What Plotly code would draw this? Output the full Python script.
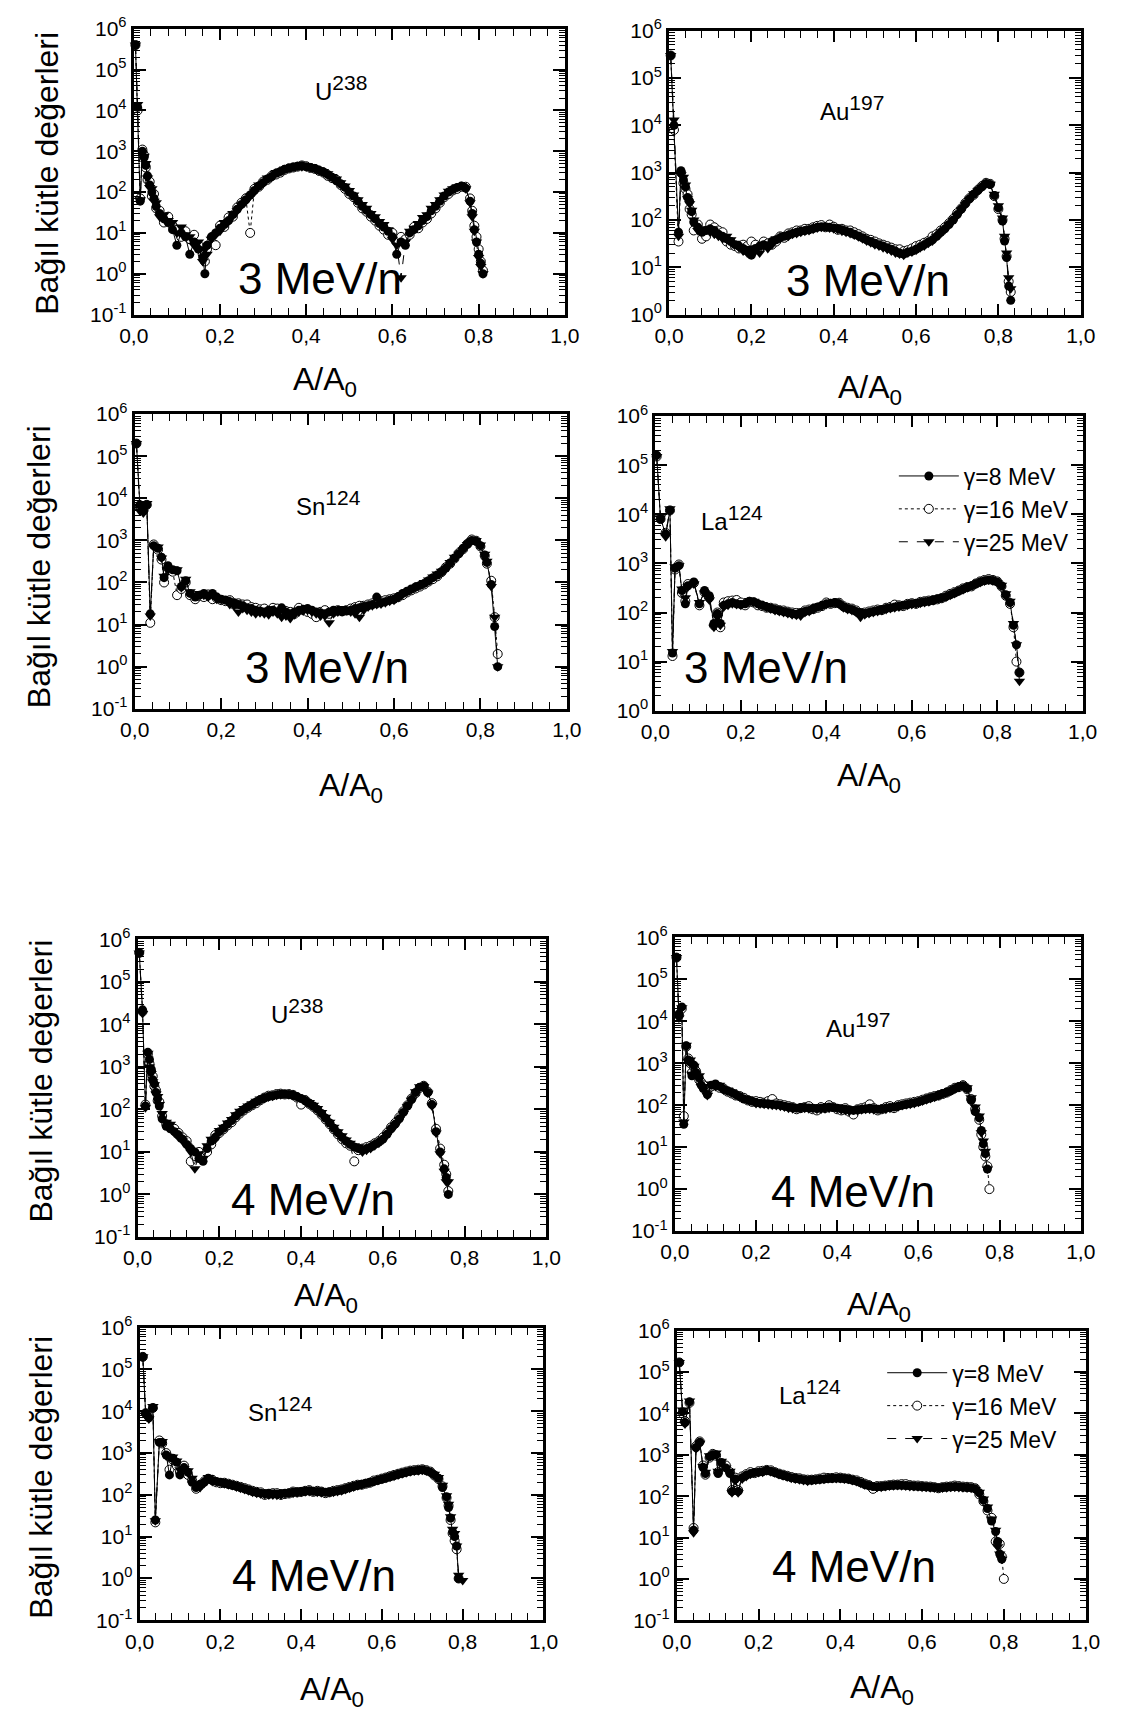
import plotly.graph_objects as go

W, H = 1122, 1720

# ---------------- data ----------------
series_names = ["γ=8 MeV", "γ=16 MeV", "γ=25 MeV"]

# U238, 3 MeV/n
p1_x = [0.004,0.009,0.015,0.02,0.024,0.028,0.032,0.037,0.042,0.047,0.052,0.06,0.07,0.08,0.09,0.10,0.11,0.12,0.13,0.14,0.15,0.16,0.165,0.17,0.18,0.19,0.20,0.21,0.22,0.23,0.24,0.25,0.26,0.27,0.28,0.29,
        0.30,0.31,0.32,0.33,0.34,0.35,0.36,0.37,0.38,0.39,0.40,0.41,0.42,0.43,0.44,0.45,0.46,0.47,0.48,0.49,0.50,0.51,0.52,0.53,0.54,0.55,0.56,0.57,0.58,0.59,0.60,0.61,0.62,0.63,0.64,0.65,0.66,0.67,0.68,0.69,0.70,0.71,0.72,0.73,0.74,0.75,0.76,0.77,0.78,0.785,0.79,0.795,0.80,0.805,0.81]
p1_y8 = [4e5,1.2e4,60,1000,700,450,250,150,100,70,45,30,22,18,12,5,10,8,3,6,4,2.5,1,5,8,10,13,16,20,28,38,50,65,85,110,140,
         170,210,240,290,320,360,390,410,430,440,420,400,380,340,310,270,230,190,160,130,100,80,60,45,36,28,22,17,14,11,8,3,6,5,10,12,15,20,25,35,45,60,80,100,115,130,140,125,60,30,12,6,3,1.8,1]
p1_y16 = [4e5,1.0e4,70,1100,800,400,200,180,80,90,40,35,18,25,15,12,8,11,7,9,5,3,2,4,6,5,15,14,24,25,42,55,70,10,120,135,
          180,200,250,270,300,350,380,400,420,450,430,390,370,330,300,250,220,200,150,120,90,75,55,40,33,25,20,15,12,9,10,6,8,7,9,14,13,18,22,30,40,55,75,90,110,120,135,135,70,35,15,8,4,2,1.2]
p1_y25 = [4e5,1.4e4,65,900,750,500,220,130,120,60,55,25,28,20,18,10,14,9,8,5,6,2,4,3,7,9,11,18,19,30,35,48,60,80,100,150,
          160,220,230,300,330,370,400,420,440,420,410,410,390,350,320,280,240,210,170,140,110,85,65,50,40,30,25,19,16,12,7,5,0.8,6,11,13,17,24,28,40,50,65,85,105,120,135,145,120,55,25,11,6,2.5,1.5,1]

# Au197, 3 MeV/n
p2_x = [0.004,0.012,0.023,0.029,0.035,0.04,0.045,0.05,0.055,0.06,0.07,0.08,0.09,0.10,0.11,0.12,0.13,0.14,0.15,0.16,0.17,0.18,0.19,0.20,0.21,0.22,0.23,
        0.24,0.25,0.26,0.27,0.28,0.29,0.30,0.31,0.32,0.33,0.34,0.35,0.36,0.37,0.38,0.39,0.40,0.41,0.42,0.43,0.44,0.45,0.46,0.47,0.48,0.49,0.50,0.51,0.52,0.53,0.54,0.55,0.56,0.57,0.58,0.59,0.60,0.61,0.62,0.63,0.64,0.65,0.66,0.67,0.68,0.69,0.70,0.71,0.72,0.73,0.74,0.75,0.76,0.77,
        0.78,0.79,0.80,0.81,0.815,0.82,0.825,0.83]
p2_y8 = [3e5,1e4,55,1100,700,500,300,250,150,90,70,55,60,65,60,50,45,40,35,30,28,25,22,18,25,28,30,
         28,35,38,42,45,48,52,55,58,60,62,66,70,72,72,70,68,66,62,58,55,50,46,42,38,35,32,30,28,26,24,22,20,19,21,22,24,27,30,34,38,45,55,65,80,100,130,170,220,280,350,420,500,590,
         560,330,180,95,36,16,4,2]
p2_y16 = [3e5,8e3,35,1000,600,450,350,170,130,60,80,40,45,80,70,60,55,35,30,28,25,30,28,35,30,25,35,
          32,30,35,45,42,52,55,60,60,65,65,70,75,78,70,80,72,62,65,60,60,55,50,45,40,38,35,32,30,28,26,24,24,22,23,25,28,30,33,36,45,50,60,70,85,105,140,175,230,290,340,430,520,610,
          580,320,170,100,40,17,5,3]
p2_y25 = [3e5,1.3e4,45,900,800,550,280,220,160,100,60,60,65,55,50,45,40,45,38,32,26,22,20,25,22,20,28,
          25,30,40,40,48,45,50,52,55,58,60,64,68,70,75,68,65,63,58,55,52,48,44,40,36,33,30,28,26,24,22,20,19,18,20,21,23,26,28,32,36,44,52,62,78,98,125,165,210,275,360,410,490,580,
          570,350,200,110,45,20,6,3.5]

# Sn124, 3 MeV/n
p3_x = [0.004,0.012,0.02,0.028,0.036,0.044,0.054,0.062,0.068,0.077,0.088,0.098,0.108,0.118,0.128,0.14,0.15,0.16,0.17,0.18,0.19,0.20,
        0.21,0.22,0.23,0.24,0.25,0.26,0.27,0.28,0.29,0.30,0.31,0.32,0.33,0.34,0.35,0.36,0.37,0.38,0.39,0.40,0.41,0.42,0.43,0.44,0.45,0.46,0.47,0.48,0.49,0.50,0.51,0.52,0.53,0.54,0.55,0.56,0.57,0.58,0.59,0.60,0.61,0.62,0.63,0.64,0.65,0.66,0.67,0.68,0.69,0.70,0.71,0.72,0.73,0.74,0.75,0.76,0.77,0.78,
        0.79,0.80,0.81,0.815,0.825,0.833,0.84]
p3_y8 = [2e5,7e3,5e3,7e3,18,750,650,400,130,250,200,190,80,110,55,45,50,55,48,55,45,40,
         38,35,33,30,28,25,24,22,21,20,22,22,20,25,20,18,20,22,23,24,22,20,19,18,20,22,21,20,21,22,24,25,27,28,30,45,33,35,38,40,46,55,62,70,78,85,95,110,130,150,180,220,290,380,480,650,820,1000,
         950,750,450,300,90,9,1]
p3_y16 = [2e5,6.5e3,5.5e3,7e3,11,800,600,350,100,220,180,50,70,100,50,40,48,45,52,40,42,38,
          36,38,30,32,30,30,26,25,23,24,20,25,24,22,21,20,18,25,22,20,18,15,20,22,18,20,22,21,22,24,26,28,28,30,32,32,36,38,40,42,45,50,58,65,72,80,90,105,120,140,175,230,280,370,500,620,830,1050,
          980,720,430,280,110,15,2]
p3_y25 = [2e5,5e3,4.5e3,7.5e3,16,700,700,380,140,200,210,200,75,120,60,50,55,50,45,50,40,42,
          40,30,28,20,24,22,20,18,19,18,17,20,18,15,16,14,17,20,21,22,20,18,16,16,11,18,20,24,22,20,18,15,22,26,28,30,31,33,36,38,44,52,60,68,76,88,100,115,135,160,185,210,300,400,470,600,800,980,
          1000,780,470,320,80,15,1]

# La124, 3 MeV/n
p4_x = [0.003,0.012,0.024,0.034,0.04,0.046,0.055,0.062,0.07,0.076,0.09,0.103,0.115,0.126,0.137,0.145,0.152,0.16,0.17,0.18,0.19,0.20,0.21,0.22,0.23,0.24,0.25,0.26,
        0.27,0.28,0.29,0.30,0.31,0.32,0.33,0.34,0.35,0.36,0.37,0.38,0.39,0.40,0.41,0.42,0.43,0.44,0.45,0.46,0.47,0.48,0.49,0.50,0.51,0.52,0.53,0.54,0.55,0.56,0.57,0.58,0.59,0.60,0.61,0.62,0.63,0.64,0.65,0.66,0.67,0.68,0.69,0.70,0.71,0.72,0.73,0.74,0.75,0.76,0.77,0.78,
        0.79,0.80,0.81,0.82,0.83,0.838,0.845,0.852]
p4_y8 = [1.6e5,8e3,4e3,1.2e4,15,800,900,280,150,350,420,150,280,220,60,95,60,140,150,160,150,145,150,170,165,150,140,130,
         122,115,110,105,100,95,92,100,105,110,120,130,140,150,155,160,150,130,120,115,105,100,95,100,105,110,115,120,125,130,135,140,145,150,155,160,165,170,180,190,200,210,230,250,275,300,325,350,385,420,445,460,
         450,420,350,230,160,55,22,6]
p4_y16 = [1.5e5,8e3,4.2e3,1.2e4,13,750,950,250,170,380,400,140,260,200,55,100,50,160,170,175,180,160,140,165,160,140,135,125,
          125,120,112,110,104,100,98,95,110,115,118,125,135,160,150,155,158,135,125,120,110,95,100,105,110,115,112,125,130,145,140,135,150,155,150,165,170,175,178,185,195,220,240,260,280,310,330,340,390,430,460,480,
          460,430,340,220,150,50,10,6]
p4_y25 = [1.5e5,8.5e3,3.5e3,1.3e4,16,850,900,300,200,330,380,160,250,180,50,80,55,130,140,150,145,140,155,175,170,155,145,128,
          118,110,105,100,95,90,88,85,100,105,115,135,138,145,160,165,145,125,115,110,100,80,90,95,100,105,110,115,120,125,130,145,140,145,150,155,160,165,175,195,198,205,225,245,270,290,320,360,380,410,440,460,
          440,410,360,240,170,60,22,4]

# U238, 4 MeV/n
p5_x = [0.004,0.012,0.019,0.025,0.029,0.033,0.037,0.041,0.045,0.049,0.053,0.06,0.07,0.08,0.09,0.10,0.11,0.12,0.13,0.14,0.15,0.16,0.17,0.18,0.19,0.20,
        0.21,0.22,0.23,0.24,0.25,0.26,0.27,0.28,0.29,0.30,0.31,0.32,0.33,0.34,0.35,0.36,0.37,0.38,0.39,0.40,0.41,0.42,0.43,0.44,0.45,0.46,0.47,0.48,0.49,0.50,0.51,0.52,0.53,0.54,0.55,0.56,0.57,0.58,0.59,0.60,0.61,0.62,0.63,0.64,0.65,0.66,0.67,0.68,
        0.69,0.70,0.71,0.72,0.73,0.74,0.75,0.755,0.76]
p5_y8 = [4.8e5,2.2e4,120,2200,1500,900,500,400,250,180,120,60,40,35,30,25,20,15,12,10,7,6,12,18,22,30,
         36,45,55,70,85,100,115,130,150,170,185,200,210,220,228,230,225,215,200,180,160,140,120,100,80,62,48,36,28,22,18,15,13,12,11,12,13,15,17,20,26,35,45,60,85,120,170,250,
         330,350,250,130,30,10,4,2.5,1]
p5_y16 = [4.8e5,2.0e4,130,2000,1200,800,600,350,280,160,150,70,45,40,35,28,22,18,6,8,10,8,10,15,25,28,
          34,42,50,65,80,95,110,125,140,165,190,210,215,230,235,225,230,220,190,130,165,135,115,95,75,58,45,34,26,20,16,14,6,11,12,13,14,16,18,22,28,38,48,65,90,125,180,240,
          320,360,260,140,35,12,5,3,1.2]
p5_y25 = [4.8e5,1.8e4,110,2100,1000,700,450,380,230,200,130,80,50,45,28,22,18,14,10,4,9,7,14,20,20,32,
          38,48,58,75,90,105,120,135,155,175,180,195,205,215,222,235,220,210,195,185,155,145,125,105,85,65,50,38,30,24,19,16,14,13,10,11,12,14,16,19,25,33,42,58,80,115,165,260,
          340,340,240,120,28,9,3.5,2,2]

# Au197, 4 MeV/n
p6_x = [0.004,0.01,0.017,0.022,0.028,0.033,0.038,0.042,0.047,0.052,0.06,0.065,0.07,0.08,0.09,0.10,0.11,0.12,0.13,0.14,0.15,0.16,0.17,0.18,0.19,0.20,
        0.21,0.22,0.23,0.24,0.25,0.26,0.27,0.28,0.29,0.30,0.31,0.32,0.33,0.34,0.35,0.36,0.37,0.38,0.39,0.40,0.41,0.42,0.43,0.44,0.45,0.46,0.47,0.48,0.49,0.50,0.51,0.52,0.53,0.54,0.55,0.56,0.57,0.58,0.59,0.60,0.61,0.62,0.63,0.64,0.65,0.66,0.67,0.68,0.69,
        0.70,0.71,0.72,0.73,0.74,0.75,0.755,0.76,0.765,0.77,0.775]
p6_y8 = [3.3e5,1.5e4,2.2e4,35,2600,1200,1100,500,900,600,450,300,250,180,300,320,280,240,220,200,180,160,140,135,125,115,
         112,110,108,105,102,100,95,90,88,85,88,88,86,85,83,85,88,90,88,85,82,80,78,75,78,80,82,85,82,80,82,85,88,90,95,100,105,110,115,120,130,140,150,160,175,190,205,220,250,
         280,290,250,130,70,50,25,12,7,3,None]
p6_y16 = [3.3e5,1.4e4,2e4,55,2500,1300,1000,600,800,650,400,350,300,200,280,300,260,250,210,190,170,165,150,130,120,125,
          120,115,125,140,110,105,100,95,90,80,85,90,95,80,75,90,85,100,90,80,75,85,70,60,80,85,90,105,85,75,80,90,95,85,100,105,110,115,120,125,135,145,155,165,170,185,200,230,260,
          270,300,240,140,80,45,20,10,6,3.5,1]
p6_y25 = [3.3e5,1.2e4,2.1e4,40,2700,1100,1200,550,850,550,500,280,280,170,320,280,300,230,230,210,175,155,145,140,130,110,
          108,105,102,100,98,95,90,85,82,90,85,85,82,90,80,80,82,85,90,90,78,75,72,80,75,78,80,80,78,85,88,80,85,95,92,98,102,105,110,118,125,135,145,155,170,195,200,215,240,
          265,285,260,150,90,55,22,14,8,3,None]

# Sn124, 4 MeV/n
p7_x = [0.008,0.015,0.023,0.033,0.039,0.049,0.056,0.066,0.074,0.082,0.092,0.10,0.11,0.12,0.13,0.14,0.15,0.16,0.17,0.18,0.19,0.20,
        0.21,0.22,0.23,0.24,0.25,0.26,0.27,0.28,0.29,0.30,0.31,0.32,0.33,0.34,0.35,0.36,0.37,0.38,0.39,0.40,0.41,0.42,0.43,0.44,0.45,0.46,0.47,0.48,0.49,0.50,0.51,0.52,0.53,0.54,0.55,0.56,0.57,0.58,0.59,0.60,0.61,0.62,0.63,0.64,0.65,0.66,0.67,0.68,0.69,
        0.70,0.71,0.72,0.73,0.74,0.75,0.76,0.765,0.77,0.775,0.78,0.785,0.79,0.80]
p7_y8 = [2e5,9e3,7e3,1.2e4,25,1800,1800,900,300,750,600,300,450,350,200,150,180,200,250,220,210,200,
         190,180,170,160,150,140,130,120,115,110,108,110,105,105,108,110,112,115,118,120,122,125,122,120,118,115,118,120,125,130,140,150,160,170,180,190,200,210,225,240,255,270,290,310,330,350,365,380,390,
         400,380,350,300,250,150,90,50,28,13,10,6,1,None]
p7_y16 = [2e5,9e3,7.5e3,1.2e4,22,2000,1700,1000,400,700,500,350,500,300,220,140,170,210,240,230,200,190,
          195,185,175,165,155,145,135,125,118,115,100,105,110,110,100,105,108,120,115,118,125,130,118,125,120,110,115,125,130,135,145,155,165,175,175,185,195,220,230,245,260,280,300,320,340,360,380,390,400,
          410,390,360,290,240,160,85,55,25,12,8,5,1,None]
p7_y25 = [2e5,8e3,6.5e3,1.3e4,24,1900,1900,850,800,800,650,400,420,380,250,160,150,190,260,210,220,210,
          185,175,168,155,145,135,125,115,110,105,102,100,100,98,100,108,110,110,112,115,118,120,125,115,112,118,115,115,120,125,135,145,155,165,175,195,198,205,220,235,250,265,280,300,320,340,355,370,380,
          390,370,340,310,260,170,95,60,30,15,12,6,1.2,0.9]

# La124, 4 MeV/n
p8_x = [0.006,0.014,0.02,0.031,0.041,0.047,0.056,0.064,0.07,0.08,0.088,0.096,0.101,0.109,0.12,0.13,0.135,0.143,0.15,0.16,0.17,0.18,0.19,0.20,0.21,0.22,0.23,0.24,
        0.25,0.26,0.27,0.28,0.29,0.30,0.31,0.32,0.33,0.34,0.35,0.36,0.37,0.38,0.39,0.40,0.41,0.42,0.43,0.44,0.45,0.46,0.47,0.48,0.49,0.50,0.51,0.52,0.53,0.54,0.55,0.56,0.57,0.58,0.59,0.60,0.61,0.62,0.63,0.64,0.65,0.66,0.67,0.68,0.69,0.70,0.71,0.72,
        0.73,0.74,0.75,0.76,0.77,0.78,0.785,0.79,0.795,0.80]
p8_y8 = [1.7e5,1.1e4,6e3,1.9e4,15,1500,2000,500,350,900,1000,1000,350,650,480,350,130,260,130,280,320,350,370,380,390,420,400,370,
         345,320,300,280,270,260,250,240,245,250,255,260,265,270,272,270,265,260,245,230,210,190,180,170,168,170,175,180,182,185,183,180,178,175,172,170,168,165,162,160,162,165,168,170,168,165,162,160,
         150,120,80,50,25,14,8,4,3,None]
p8_y16 = [1.7e5,1e4,6.5e3,1.8e4,17,1600,2100,550,330,850,1050,950,380,600,550,380,140,280,140,300,340,380,360,400,410,430,420,380,
          350,330,310,290,275,270,255,250,250,255,265,280,275,275,285,280,270,265,250,240,220,200,185,150,175,175,180,185,190,190,195,195,185,180,180,175,172,170,165,155,165,170,172,180,175,170,168,165,
          155,110,75,45,30,8,7,7,3.5,1]
p8_y25 = [1.7e5,1.2e4,5.5e3,2e4,13,1400,1900,520,380,950,950,1100,400,700,480,400,120,240,120,260,300,340,380,370,380,410,390,360,
          335,310,290,270,260,250,240,230,240,245,250,255,262,265,268,265,260,255,240,225,205,185,175,175,165,165,170,175,178,180,178,175,172,170,168,165,163,160,158,165,158,160,165,165,162,160,158,155,
          145,125,85,55,28,15,6,4,3,None]

x_tickvals = [0.0, 0.2, 0.4, 0.6, 0.8, 1.0]
x_ticktext = ["0,0", "0,2", "0,4", "0,6", "0,8", "1,0"]
y_tickvals = [1e-1, 1e0, 1e1, 1e2, 1e3, 1e4, 1e5, 1e6]
y_ticktext = ["10<sup>-1</sup>", "10<sup>0</sup>", "10<sup>1</sup>", "10<sup>2</sup>",
              "10<sup>3</sup>", "10<sup>4</sup>", "10<sup>5</sup>", "10<sup>6</sup>"]
element_names = ["U", "Au", "Sn", "La", "U", "Au", "Sn", "La"]
element_masses = ["238", "197", "124", "124", "238", "197", "124", "124"]
energy_labels = ["3 MeV/n"] * 4 + ["4 MeV/n"] * 4
y_title = "Bağıl kütle değerleri"
x_title = "A/A<sub>0</sub>"
y_min_exp = [-1, 0, -1, 0, -1, -1, -1, -1]

panels = [
    (p1_x, p1_y8, p1_y16, p1_y25),
    (p2_x, p2_y8, p2_y16, p2_y25),
    (p3_x, p3_y8, p3_y16, p3_y25),
    (p4_x, p4_y8, p4_y16, p4_y25),
    (p5_x, p5_y8, p5_y16, p5_y25),
    (p6_x, p6_y8, p6_y16, p6_y25),
    (p7_x, p7_y8, p7_y16, p7_y25),
    (p8_x, p8_y8, p8_y16, p8_y25),
]
checked = []
for n, p in enumerate(panels):
    m = min(len(a) for a in p)
    if any(len(a) != m for a in p):
        print("length mismatch in panel", n + 1, [len(a) for a in p])
    checked.append(tuple(a[:m] for a in p))
panels = checked

# ---------------- layout (pixels) ----------------
boxes = [(122, 565, 15, 305), (672, 1095, 17, 305),
         (123, 567, 406, 705), (658, 1097, 408, 707),
         (126, 546, 939, 1241), (678, 1095, 937, 1235),
         (128, 543, 1333, 1630), (680, 1100, 1336, 1630)]
elem_pos = [(335, 75), (860, 95), (322, 496), (737, 511),
            (290, 1012), (866, 1026), (273, 1416), (817, 1398)]
energy_pos = [(313, 268), (876, 270), (321, 663), (772, 663),
              (306, 1203), (861, 1195), (307, 1585), (862, 1575)]
xtitle_pos = [(319, 373), (879, 381), (345, 785), (877, 775),
              (320, 1302), (888, 1312), (326, 1702), (891, 1700)]
ytitle_pos = {0: (33, 162), 2: (25, 561), 4: (27, 1083), 6: (27, 1485)}

FONT = "Liberation Sans, Arial, sans-serif"


def px(v):
    return v / W


def py(v):
    return 1 - v / H


styles = [
    dict(line=dict(color="black", width=1, dash="solid"),
         marker=dict(symbol="circle", size=9, color="black")),
    dict(line=dict(color="black", width=1, dash="dot"),
         marker=dict(symbol="circle", size=9, color="white", line=dict(color="black", width=1))),
    dict(line=dict(color="black", width=1, dash="dash"),
         marker=dict(symbol="triangle-down", size=10, color="black")),
]
draw_order = [1, 0, 2]   # open circles underneath, filled marks on top

fig = go.Figure()
layout = dict(width=W, height=H, margin=dict(l=0, r=0, t=0, b=0), autosize=False,
              paper_bgcolor="white", plot_bgcolor="white",
              font=dict(family=FONT, color="black"), annotations=[])


def note(x, y, text, size, angle=0):
    return dict(x=px(x), y=py(y), xref="paper", yref="paper", text=text,
                showarrow=False, xanchor="center", yanchor="middle", textangle=angle,
                font=dict(size=size, family=FONT, color="black"))


for i, (xs, ya, yb, yc) in enumerate(panels):
    k = i + 1
    sx = "" if k == 1 else str(k)
    leg = None
    if i == 3:
        leg = "legend"
    elif i == 7:
        leg = "legend2"
    series = (ya, yb, yc)
    for j in draw_order:
        tr = go.Scatter(x=xs, y=series[j], mode="lines+markers", name=series_names[j],
                        xaxis="x" + sx, yaxis="y" + sx, cliponaxis=False,
                        showlegend=leg is not None, legendrank=j + 1, **styles[j])
        if leg is not None:
            tr.legend = leg
        fig.add_trace(tr)

    L, R, T, B = boxes[i]
    lo = y_min_exp[i]
    tv = [v for v, e in zip(y_tickvals, range(-1, 7)) if e >= lo]
    tt = [t for t, e in zip(y_ticktext, range(-1, 7)) if e >= lo]
    layout["xaxis" + sx] = dict(
        domain=[px(L), px(R)], range=[0, 1], anchor="y" + sx,
        tickmode="array", tickvals=x_tickvals, ticktext=x_ticktext,
        ticks="inside", ticklen=11, tickwidth=1.5, tickcolor="black",
        showline=True, linewidth=3, linecolor="black", mirror="ticks",
        showgrid=False, zeroline=False, tickfont=dict(size=21, family=FONT),
        minor=dict(tickmode="linear", tick0=0, dtick=0.04, ticks="inside", ticklen=7,
                   tickwidth=1, tickcolor="black", showgrid=False))
    layout["yaxis" + sx] = dict(
        domain=[py(B), py(T)], type="log", range=[lo, 6], anchor="x" + sx,
        tickmode="array", tickvals=tv, ticktext=tt,
        ticks="inside", ticklen=12, tickwidth=1.5, tickcolor="black",
        showline=True, linewidth=3, linecolor="black", mirror="ticks",
        showgrid=False, zeroline=False, tickfont=dict(size=21, family=FONT),
        minor=dict(dtick="D1", ticks="inside", ticklen=6, tickwidth=1,
                   tickcolor="black", showgrid=False))

    ex, ey = elem_pos[i]
    elem_text = element_names[i] + "<sup><span style='font-size:21px'>" + element_masses[i] + "</span></sup>"
    layout["annotations"].append(note(ex, ey, elem_text, 24))
    gx, gy = energy_pos[i]
    layout["annotations"].append(note(gx, gy, energy_labels[i], 44))
    tx, tyy = xtitle_pos[i]
    layout["annotations"].append(note(tx, tyy, x_title, 32))
    if i in ytitle_pos:
        yx, yy = ytitle_pos[i]
        layout["annotations"].append(note(yx, yy, y_title, 32, angle=-90))

layout["legend"] = dict(x=px(903), y=py(447), xanchor="left", yanchor="top",
                        font=dict(size=23, family=FONT), bgcolor="rgba(0,0,0,0)",
                        itemwidth=60, tracegroupgap=0, traceorder="normal")
layout["legend2"] = dict(x=px(891), y=py(1357), xanchor="left", yanchor="top",
                         font=dict(size=23, family=FONT), bgcolor="rgba(0,0,0,0)",
                         itemwidth=60, tracegroupgap=0, traceorder="normal")

fig.update_layout(**layout)
fig.write_html("out.html")
